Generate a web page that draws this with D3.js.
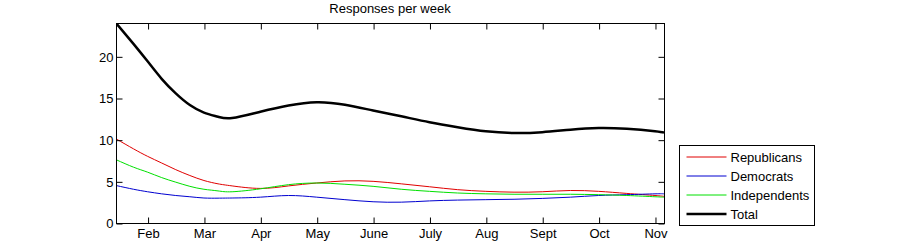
<!DOCTYPE html>
<html>
<head>
<meta charset="utf-8">
<script src="https://cdn.jsdelivr.net/npm/d3@7"></script>
<style>
    body { margin: 0; background: #fff; }
    text { font-family: "Liberation Sans", Arial, sans-serif; font-size: 13px; fill: #000; }
</style>
</head>
<body>
<div id="chart"></div>
<script>

// x positions in month units (Feb = 2 ... Nov = 11)
const weeks = [1.44, 1.75, 2, 2.25, 2.5, 2.75, 3, 3.25, 3.5, 4, 4.5, 5, 5.5, 6, 6.5, 7, 7.5, 8, 8.5, 9, 9.5, 10, 10.5, 11, 11.16];

const republicans  = [10.1, 8.9, 8.0, 7.2, 6.4, 5.7, 5.1, 4.7, 4.45, 4.15, 4.45, 4.8, 5.05, 5.0, 4.7, 4.35, 4.0, 3.8, 3.7, 3.75, 3.9, 3.8, 3.55, 3.3, 3.2];
const democrats    = [4.5, 4.05, 3.75, 3.5, 3.3, 3.15, 3.0, 2.98, 3.0, 3.1, 3.3, 3.1, 2.8, 2.55, 2.5, 2.65, 2.75, 2.8, 2.85, 2.95, 3.1, 3.3, 3.4, 3.5, 3.5];
const independents = [7.6, 6.7, 6.1, 5.45, 4.9, 4.4, 4.05, 3.85, 3.75, 4.1, 4.6, 4.8, 4.65, 4.4, 4.05, 3.8, 3.6, 3.5, 3.45, 3.45, 3.45, 3.4, 3.3, 3.15, 3.1];
const total        = [24.0, 21.5, 19.4, 17.3, 15.55, 14.15, 13.25, 12.75, 12.6, 13.35, 14.1, 14.5, 14.2, 13.5, 12.8, 12.1, 11.5, 11.0, 10.8, 10.9, 11.2, 11.4, 11.3, 11.0, 10.85];

const monthTicks  = [2, 3, 4, 5, 6, 7, 8, 9, 10, 11];
const monthLabels = ["Feb", "Mar", "Apr", "May", "June", "July", "Aug", "Sept", "Oct", "Nov"];
const yTicks      = [0, 5, 10, 15, 20];

const seriesNames = ["Republicans", "Democrats", "Independents", "Total"];


const width = 900;
const height = 250;

const svg = d3.select("#chart")
    .append("svg")
    .attr("width", width)
    .attr("height", height);

const margin = { top: 23, left: 116, right: 236, bottom: 27 };

const xScale = d3.scaleLinear()
    .domain([1.44, 11.16])
    .range([margin.left, width - margin.right]);

const yScale = d3.scaleLinear()
    .domain([0, 24])
    .range([height - margin.bottom, margin.top]);

const series = [
    { name: seriesNames[0], values: republicans, color: "#e00000", width: 1 },
    { name: seriesNames[1], values: democrats, color: "#0000d0", width: 1 },
    { name: seriesNames[2], values: independents, color: "#00e000", width: 1 },
    { name: seriesNames[3], values: total, color: "#000", width: 2.5 }
];

// clip lines to the axes box
svg.append("clipPath")
    .attr("id", "plotClip")
    .append("rect")
    .attr("x", margin.left)
    .attr("y", margin.top)
    .attr("width", width - margin.left - margin.right)
    .attr("height", height - margin.top - margin.bottom);

const line = d3.line()
    .x(function(d) { return xScale(d[0]); })
    .y(function(d) { return yScale(d[1]); })
    .curve(d3.curveNatural);

svg.append("g")
    .attr("clip-path", "url(#plotClip)")
    .selectAll("path")
    .data(series)
    .enter()
    .append("path")
        .attr("fill", "none")
        .attr("stroke", function(d) { return d.color; })
        .attr("stroke-width", function(d) { return d.width; })
        .attr("d", function(d) { return line(weeks.map(function(w, i) { return [w, d.values[i]]; })); });


// axes (ticks point inward, like matlab)
const xAxis = svg.append("g")
    .attr("transform", `translate(0.5,${height - margin.bottom + 0.5})`)
    .call(d3.axisBottom(xScale)
        .tickValues(monthTicks)
        .tickFormat(function(d, i) { return monthLabels[i]; })
        .tickSize(-6)
        .tickPadding(5));

svg.append("g")
    .attr("transform", `translate(0.5,${margin.top + 0.5})`)
    .call(d3.axisTop(xScale).tickValues(monthTicks).tickFormat("").tickSize(-6));

const yAxis = svg.append("g")
    .attr("transform", `translate(${margin.left + 0.5},0.5)`)
    .call(d3.axisLeft(yScale)
        .tickValues(yTicks)
        .tickSize(-6)
        .tickPadding(3));

svg.append("g")
    .attr("transform", `translate(${width - margin.right + 0.5},0.5)`)
    .call(d3.axisRight(yScale).tickValues(yTicks).tickFormat("").tickSize(-6));

svg.selectAll(".domain").remove();
svg.selectAll(".tick text").style("font-size", "13px").attr("font-family", null);

svg.append("rect")
    .attr("x", margin.left + 0.5)
    .attr("y", margin.top + 0.5)
    .attr("width", width - margin.left - margin.right)
    .attr("height", height - margin.top - margin.bottom)
    .attr("fill", "none")
    .attr("stroke", "#000");


// title
svg.append("text")
    .attr("x", (margin.left + width - margin.right) / 2)
    .attr("y", 13)
    .attr("text-anchor", "middle")
    .text("Responses per week");


// legend
const legend = svg.append("g")
    .attr("transform", "translate(679.5,145.5)");

legend.append("rect")
    .attr("width", 135)
    .attr("height", 80)
    .attr("fill", "#fff")
    .attr("stroke", "#000");

const rows = legend.selectAll(".row")
    .data(series)
    .enter()
    .append("g")
        .attr("transform", function(d, i) { return `translate(0,${11.5 + i * 19})`; });

rows.append("line")
    .attr("x1", 7)
    .attr("x2", 47)
    .attr("stroke", function(d) { return d.color; })
    .attr("stroke-width", function(d) { return d.width; });

rows.append("text")
    .attr("x", 51)
    .attr("dy", "0.35em")
    .text(function(d) { return d.name; });

</script>
</body>
</html>
